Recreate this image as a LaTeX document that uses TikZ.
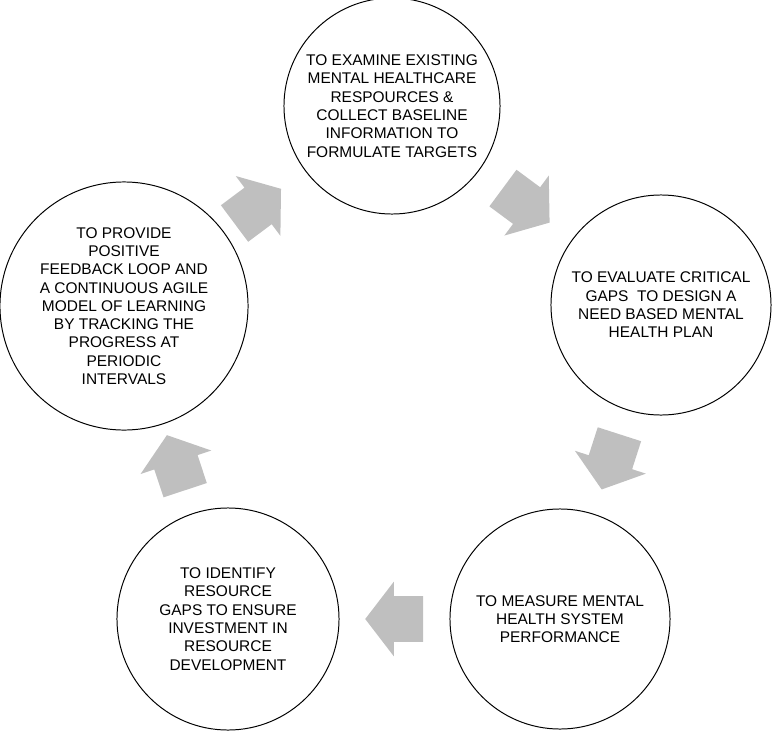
\documentclass[tikz,border=0pt]{standalone}
\usepackage{fontspec}
\setmainfont{Liberation Sans}
\usetikzlibrary{shapes.arrows}

\begin{document}
\begin{tikzpicture}[x=0.025cm,y=-0.025cm,
	phase/.style={circle,draw,line width=0.7pt,inner sep=0pt,align=center,font=\fontsize{11}{13}\selectfont},
	flow/.style={single arrow,fill=black!25,draw=none,inner xsep=0pt,inner ysep=0.5625cm,minimum height=1.45cm,single arrow head extend=0.3625cm,single arrow tip angle=105,pos=0.473,sloped,allow upside down}]
	\useasboundingbox (0,0) rectangle (772,731);

	\node[phase,minimum size=5.4cm] (examine) at (392,106) {TO EXAMINE EXISTING\\MENTAL HEALTHCARE\\RESPOURCES \&\\COLLECT BASELINE\\INFORMATION TO\\FORMULATE TARGETS};
	\node[phase,minimum size=5.5cm] (evaluate) at (661,305) {TO EVALUATE CRITICAL\\GAPS~ TO DESIGN A\\NEED BASED MENTAL\\HEALTH PLAN};
	\node[phase,minimum size=5.5cm] (measure) at (560,619) {TO MEASURE MENTAL\\HEALTH SYSTEM\\PERFORMANCE};
	\node[phase,minimum size=5.55cm] (identify) at (228,619) {TO IDENTIFY\\RESOURCE\\GAPS TO ENSURE\\INVESTMENT IN\\RESOURCE\\DEVELOPMENT};
	\node[phase,minimum size=6.2cm] (provide) at (124,306) {TO PROVIDE\\POSITIVE\\FEEDBACK LOOP AND\\A CONTINUOUS AGILE\\MODEL OF LEARNING\\BY TRACKING THE\\PROGRESS AT\\PERIODIC\\INTERVALS};

	\path (provide.center) -- node[flow] {} (examine.center)
		(examine.center) -- node[flow] {} (evaluate.center)
		(evaluate.center) -- node[flow] {} (measure.center)
		(measure.center) -- node[flow] {} (identify.center)
		(identify.center) -- node[flow] {} (provide.center);
\end{tikzpicture}
\end{document}
